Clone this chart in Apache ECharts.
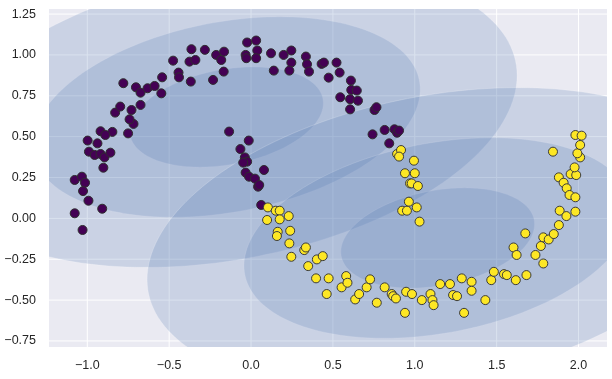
<!DOCTYPE html>
<html>
<head>
<meta charset="utf-8">
<script src="https://cdn.jsdelivr.net/npm/echarts@6/dist/echarts.min.js"></script>
<style>
html,body{margin:0;padding:0;background:#fff;}
#chart{width:612px;height:379px;}
</style>
</head>
<body>
<div id="chart"></div>
<script>
// ---- tick labels ----
const xTicks = [-1.0, -0.5, 0.0, 0.5, 1.0, 1.5, 2.0];
const yTicks = [-0.75, -0.5, -0.25, 0.0, 0.25, 0.5, 0.75, 1.0, 1.25];

// ---- cluster 0 (purple) ----
const class0X = [-1.077,-1.029,-1.077,-1.033,-1.014,-1.026,-0.993,-0.909,-0.998,-0.990,-0.938,-0.955,-0.919,-0.895,-0.902,-0.859,-0.847,-0.919,-0.890,-0.830,-0.799,-0.730,-0.751,-0.718,-0.742,-0.675,-0.780,-0.703,-0.675,-0.632,-0.589,-0.548,-0.543,-0.476,-0.443,-0.440,-0.368,-0.364,-0.376,-0.340,-0.282,-0.232,-0.213,-0.182,-0.167,-0.165,-0.033,-0.024,0.031,0.038,0.031,-0.029,0.122,0.199,0.139,0.246,0.246,0.234,0.335,0.342,0.354,0.431,0.445,0.474,0.522,0.541,0.610,0.605,0.612,0.646,0.653,0.545,0.605,0.754,0.766,0.742,0.816,0.876,0.892,0.844,-0.134,-0.065,-0.014,-0.038,-0.024,-0.033,-0.012,0.024,0.043,0.062,0.079,-0.048,0.050,0.904];
const class0Y = [0.031,-0.071,0.235,0.255,0.218,0.167,0.108,0.059,0.476,0.408,0.459,0.388,0.394,0.373,0.310,0.402,0.529,0.533,0.510,0.647,0.684,0.663,0.520,0.578,0.606,0.694,0.827,0.802,0.769,0.796,0.810,0.765,0.863,0.965,0.892,0.863,0.837,1.035,0.959,0.969,1.031,0.847,1.000,0.969,0.898,1.020,1.000,1.076,1.088,1.027,0.980,0.980,1.010,1.000,0.904,1.027,0.953,0.904,0.990,0.943,0.898,0.945,0.953,0.861,0.953,0.892,0.843,0.729,0.786,0.782,0.720,0.741,0.667,0.663,0.680,0.514,0.541,0.545,0.524,0.459,0.531,0.424,0.476,0.373,0.347,0.280,0.255,0.243,0.194,0.082,0.296,0.341,0.204,0.537];

// ---- cluster 1 (yellow) ----
const class1X = [0.103,0.098,0.151,0.175,0.175,0.230,0.163,0.158,0.239,0.234,0.246,0.325,0.335,0.349,0.397,0.402,0.438,0.474,0.462,0.553,0.581,0.589,0.636,0.660,0.706,0.727,0.768,0.816,0.859,0.868,0.885,0.940,0.947,0.983,1.043,1.096,1.108,1.115,1.155,1.215,1.234,1.258,1.287,1.301,1.347,1.347,1.431,1.467,1.483,1.545,1.562,1.617,1.603,1.622,1.675,1.682,1.737,1.770,1.785,1.785,1.818,1.849,1.880,1.885,1.926,1.981,1.880,1.909,1.928,1.945,1.981,1.952,1.986,1.976,2.010,1.993,2.010,1.981,2.019,1.844,0.892,0.916,0.904,0.995,0.940,1.000,0.971,0.981,1.019,0.964,0.923,0.952,1.012,1.029];
const class1Y = [0.067,-0.010,0.047,0.047,-0.006,0.014,-0.082,-0.108,-0.076,-0.153,-0.235,-0.194,-0.178,-0.292,-0.367,-0.251,-0.231,-0.367,-0.463,-0.422,-0.353,-0.394,-0.496,-0.463,-0.422,-0.373,-0.516,-0.422,-0.463,-0.476,-0.490,-0.578,-0.449,-0.463,-0.500,-0.463,-0.500,-0.531,-0.402,-0.402,-0.469,-0.476,-0.367,-0.578,-0.388,-0.443,-0.500,-0.378,-0.327,-0.341,-0.347,-0.378,-0.178,-0.224,-0.092,-0.347,-0.224,-0.169,-0.276,-0.116,-0.129,-0.096,-0.041,0.047,0.014,0.041,0.251,0.218,0.184,0.143,0.129,0.271,0.265,0.312,0.373,0.398,0.449,0.510,0.506,0.408,0.394,0.418,0.378,0.353,0.276,0.276,0.214,0.214,0.198,0.102,0.047,0.047,0.067,-0.020];

// ---- Gaussian components (mean, covariance [xx, xy, yy], weight alpha) ----
const compMeanX = [-0.15, 1.14];
const compMeanY = [0.62, -0.12];
const compCovXX = [0.35, 0.35];
const compCovXY = [0.05, 0.05];
const compCovYY = [0.094, 0.094];
const compAlpha = [0.2, 0.2];
const sigmaLevels = [1, 2, 3];

// ---- build ----
function fmt(v, d) { return v.toFixed(d).replace('-', '\u2212'); }
const ellipseItems = [];
for (let c = 0; c < compMeanX.length; c++) {
  for (const s of sigmaLevels) ellipseItems.push([c, s]);
}
const gridItems = xTicks.map(v => [0, v]).concat(yTicks.map(v => [1, v]));
const pts0 = class0X.map((x, i) => [x, class0Y[i]]);
const pts1 = class1X.map((x, i) => [x, class1Y[i]]);

const X_MIN = -1.234, X_MAX = 2.174, Y_MIN = -0.787, Y_MAX = 1.281;

const chart = echarts.init(document.getElementById('chart'), null, {renderer: 'canvas'});
const labelStyle = {color: '#262626', fontSize: 12.5, fontFamily: 'Liberation Sans, Arial, sans-serif'};
chart.setOption({
  animation: false,
  grid: {left: 49, right: 5, top: 9, bottom: 32, show: true, backgroundColor: '#EAEAF2', borderWidth: 0},
  xAxis: {
    type: 'value', min: X_MIN, max: X_MAX,
    axisLine: {show: false}, axisTick: {show: false}, splitLine: {show: false},
    axisLabel: Object.assign({customValues: xTicks, margin: 12, formatter: v => fmt(v, 1)}, labelStyle)
  },
  yAxis: {
    type: 'value', min: Y_MIN, max: Y_MAX,
    axisLine: {show: false}, axisTick: {show: false}, splitLine: {show: false},
    axisLabel: Object.assign({customValues: yTicks, margin: 13, formatter: v => fmt(v, 2)}, labelStyle)
  },
  series: [
    {
      type: 'custom', z: 1, silent: true,
      data: gridItems,
      renderItem: function (params, api) {
        const dir = api.value(0), v = api.value(1);
        let p1, p2;
        if (dir === 0) { p1 = api.coord([v, Y_MIN]); p2 = api.coord([v, Y_MAX]); }
        else { p1 = api.coord([X_MIN, v]); p2 = api.coord([X_MAX, v]); }
        return {
          type: 'line',
          shape: {x1: p1[0], y1: p1[1], x2: p2[0], y2: p2[1]},
          style: {stroke: '#ffffff', lineWidth: 1}
        };
      }
    },
    {
      type: 'custom', z: 2, silent: true, clip: true,
      data: ellipseItems,
      renderItem: function (params, api) {
        const c = api.value(0), s = api.value(1);
        const a = compCovXX[c], b = compCovXY[c], d = compCovYY[c];
        const l11 = Math.sqrt(a), l21 = b / l11, l22 = Math.sqrt(d - l21 * l21);
        const pts = [];
        for (let k = 0; k < 180; k++) {
          const t = 2 * Math.PI * k / 180;
          const u = Math.cos(t), w = Math.sin(t);
          const x = compMeanX[c] + s * (l11 * u);
          const y = compMeanY[c] + s * (l21 * u + l22 * w);
          pts.push(api.coord([x, y]));
        }
        const cs = params.coordSys;
        return {
          type: 'polygon',
          shape: {points: pts},
          clipPath: {type: 'rect', shape: {x: cs.x, y: cs.y, width: cs.width, height: cs.height}},
          style: {fill: 'rgba(76,114,176,' + compAlpha[c] + ')', stroke: 'rgba(255,255,255,' + compAlpha[c] + ')', lineWidth: 1}
        };
      }
    },
    {
      type: 'scatter', z: 3, data: pts0, symbolSize: 9,
      itemStyle: {color: '#440154', borderColor: '#2e2e2e', borderWidth: 1, opacity: 1}
    },
    {
      type: 'scatter', z: 3, data: pts1, symbolSize: 9,
      itemStyle: {color: '#FDE725', borderColor: '#3a3a3a', borderWidth: 1, opacity: 1}
    }
  ]
});
</script>
</body>
</html>
